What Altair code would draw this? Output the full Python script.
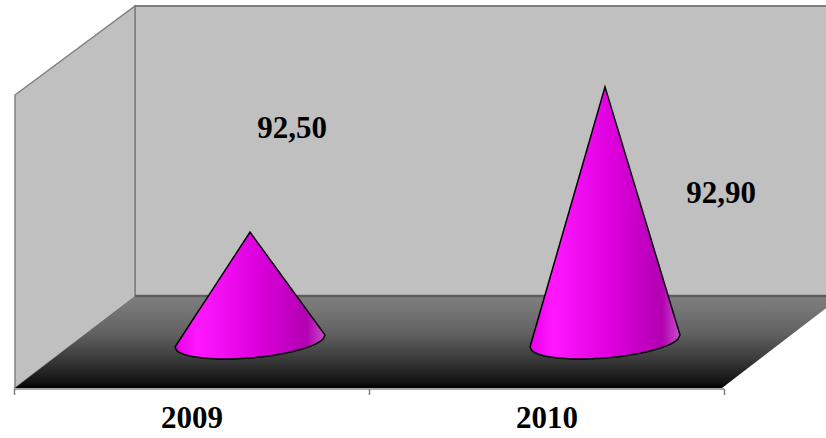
import altair as alt
import numpy as np
import pandas as pd

# ---------------- data ----------------
CATEGORIES = ["2009", "2010"]
VALUES = [92.50, 92.90]
VALUE_LABELS = ["92,50", "92,90"]
Y_MIN, Y_MAX = 92.2, 93.0

# ---------------- layout (pixels) ----------------
W, H = 826, 438
BASE_PX = 341            # pixel row of Y_MIN at mid depth of the floor
PX_PER_UNIT = 363        # vertical pixels per value unit
X_RANGE = [72.5, 782.5]  # mid-depth band range for the two categories
DEPTH_SHIFT = 58         # front edge is shifted left by this many pixels
CONE_HALF_PX = 75
TILT_PX = 6
ELLIPSE_PX = 17
LABEL_PLACE = [(42, 138), (116, 203)]   # (x offset from cone centre, baseline px)
FONT = "Liberation Serif"

unit_px_x = (X_RANGE[1] - X_RANGE[0]) / len(CATEGORIES)
y_range = [BASE_PX, BASE_PX - PX_PER_UNIT * (Y_MAX - Y_MIN)]


def ux(px):
    return (px - X_RANGE[0]) / unit_px_x


def uy(py):
    return Y_MIN + (BASE_PX - py) / PX_PER_UNIT


xs = alt.Scale(domain=[0, len(CATEGORIES)], range=X_RANGE, nice=False, zero=False)
ys = alt.Scale(domain=[Y_MIN, Y_MAX], range=y_range, nice=False, zero=False)

# cone outlines built from the values
t = np.linspace(-1, 1, 81)
half = CONE_HALF_PX / unit_px_x
tilt = TILT_PX / PX_PER_UNIT
depth = ELLIPSE_PX / PX_PER_UNIT
rows = []
for i, (c, v) in enumerate(zip(CATEGORIES, VALUES)):
    for tt in t:
        base_c = Y_MIN + tilt * tt
        end = Y_MIN + tilt * np.sign(tt)
        top = v + (end - v) * abs(tt)
        bot = base_c - depth * np.sqrt(max(0.0, 1 - tt * tt))
        rows.append(dict(cat=c, x=i + 0.5 + tt * half, top=top, bot=bot))
cones = pd.DataFrame(rows)

cat_df = pd.DataFrame({"cat": CATEGORIES, "xc": [i + 0.5 for i in range(len(CATEGORIES))]})
lab_df = pd.DataFrame({
    "lab": VALUE_LABELS,
    "lx": [i + 0.5 + LABEL_PLACE[i][0] / unit_px_x for i in range(len(CATEGORIES))],
    "ly": [uy(LABEL_PLACE[i][1]) for i in range(len(CATEGORIES))],
})
bounds = pd.DataFrame({"b": list(range(len(CATEGORIES) + 1))})
one = pd.DataFrame({"a": [0]})

# frame polygons (decoration), expressed through the same scales
left_df = pd.DataFrame({"x": [ux(15), ux(135)], "y": [uy(95), uy(6)], "y2": [uy(388), uy(297)]})
floor_df = pd.DataFrame({
    "x": [ux(15), ux(135), ux(722), ux(842)],
    "y": [uy(388), uy(296), uy(296), uy(296)],
    "y2": [uy(388), uy(388), uy(388), uy(296)],
})

# ---------------- frame ----------------
back_wall = alt.Chart(one).mark_rect(fill="#C0C0C0", stroke="#808080", strokeWidth=2).encode(
    x=alt.value(135), x2=alt.value(832), y=alt.value(6), y2=alt.value(297)
)
left_wall = alt.Chart(left_df).mark_area(
    color="#C0C0C0", stroke="#808080", strokeWidth=1.5, interpolate="linear", opacity=1
).encode(x=alt.X("x:Q", scale=xs, axis=None), y=alt.Y("y:Q", scale=ys, axis=None), y2="y2:Q")

floor = alt.Chart(floor_df).mark_area(
    interpolate="linear", opacity=1,
    color=alt.Gradient(gradient="linear", x1=0, x2=0, y1=0, y2=1,
                       stops=[alt.GradientStop(color="#808080", offset=0),
                              alt.GradientStop(color="#626262", offset=0.4),
                              alt.GradientStop(color="#383838", offset=0.7),
                              alt.GradientStop(color="#121212", offset=0.94),
                              alt.GradientStop(color="#000000", offset=1)])
).encode(x=alt.X("x:Q", scale=xs, axis=None), y=alt.Y("y:Q", scale=ys, axis=None), y2="y2:Q")

floor_back = alt.Chart(one).mark_rule(color="#5e5e5e", strokeWidth=2.5).encode(
    x=alt.value(135), x2=alt.value(826), y=alt.value(296)
)
axis_line = alt.Chart(bounds).mark_rule(color="#A8A8A8", strokeWidth=2,
                                        xOffset=-DEPTH_SHIFT, x2Offset=-DEPTH_SHIFT).encode(
    x=alt.X("min(b):Q", scale=xs, axis=None), x2="max(b):Q", y=alt.value(389)
)
ticks = alt.Chart(bounds).mark_rule(color="#808080", strokeWidth=1.5, xOffset=-DEPTH_SHIFT).encode(
    x=alt.X("b:Q", scale=xs, axis=None), y=alt.value(389), y2=alt.value(395)
)

# ---------------- cones ----------------
cone_fill = alt.Gradient(
    gradient="linear", x1=0, x2=1, y1=0, y2=0,
    stops=[alt.GradientStop(color="#E800E8", offset=0),
           alt.GradientStop(color="#FF18FF", offset=0.15),
           alt.GradientStop(color="#DD00DD", offset=0.55),
           alt.GradientStop(color="#B200B2", offset=0.88),
           alt.GradientStop(color="#C850C8", offset=1)],
)
cone = alt.Chart(cones).mark_area(
    color=cone_fill, stroke="black", strokeWidth=1.5, interpolate="linear", opacity=1
).encode(
    x=alt.X("x:Q", scale=xs, axis=None),
    y=alt.Y("top:Q", scale=ys, axis=None),
    y2="bot:Q",
    detail="cat:N",
)

# ---------------- text ----------------
cat_text = alt.Chart(cat_df).mark_text(
    font=FONT, fontSize=31, fontWeight="bold", color="black", dx=-DEPTH_SHIFT,
    baseline="alphabetic", align="center"
).encode(x=alt.X("xc:Q", scale=xs, axis=None), y=alt.value(428), text="cat:N")

val_text = alt.Chart(lab_df).mark_text(
    font=FONT, fontSize=31, fontWeight="bold", color="black",
    baseline="alphabetic", align="center"
).encode(
    x=alt.X("lx:Q", scale=xs, axis=None),
    y=alt.Y("ly:Q", scale=ys, axis=None),
    text="lab:N",
)

chart = alt.layer(
    back_wall, left_wall, floor, floor_back, axis_line, ticks, cone, cat_text, val_text
).properties(
    width=W, height=H, padding=0, background="white",
    autosize=alt.AutoSizeParams(type="none"),
).configure_view(strokeWidth=0)

chart.save("out.html", embed_options={"renderer": "svg", "actions": False})
